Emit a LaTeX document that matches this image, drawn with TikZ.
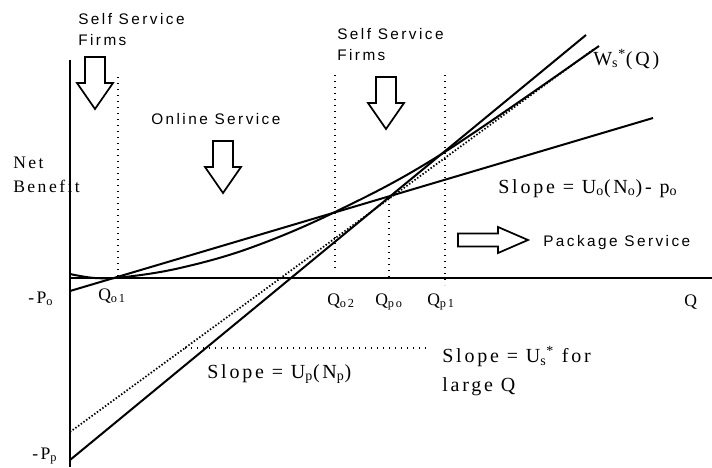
\documentclass[tikz,border=0pt]{standalone}
\usepackage{fontspec}
\setmainfont{Liberation Serif}[LetterSpace=14]
\setsansfont{Liberation Sans}[LetterSpace=16]

\tikzset{
  axis/.style={line width=1.5pt},
  curve/.style={line width=1.5pt},
  guide/.style={line width=0.9pt, dash pattern=on 0.9pt off 3.6pt},
  asym/.style={line width=1.3pt, dash pattern=on 1.1pt off 1.4pt},
  qlbl/.style={inner sep=0pt, anchor=base west, font=\fontsize{13.2}{18}\selectfont},
  slbl/.style={inner sep=0pt, anchor=base west, font=\fontsize{15}{21.75}\selectfont},
  firm/.style={inner sep=0pt, anchor=base west, font=\sffamily\fontsize{11.5}{15.75}\selectfont},
  hollowdown/.pic={
    \draw[line width=1.3pt] (-10,0) -- (10,0) -- (10,26) -- (18,26) -- (0,52)
      -- (-18,26) -- (-10,26) -- cycle;
  },
  hollowright/.pic={
    \draw[line width=1.3pt] (0,-6.5) -- (40,-6.5) -- (40,-13) -- (70,0)
      -- (40,13) -- (40,6.5) -- (0,6.5) -- cycle;
  },
}

\begin{document}
\begin{tikzpicture}[x=0.75pt, y=-0.75pt]
\useasboundingbox (0,0) rectangle (712,467);

% axes
\coordinate (origin) at (70,278);
\coordinate (top) at (70,60);
\coordinate (bottom) at (70,467);
\coordinate (right) at (712,278);
\draw[axis] (top) -- (bottom);
\draw[axis] (origin) -- (right);

% intercepts and line ends
\coordinate (Po) at (70,291);
\coordinate (Ps) at (70,432);
\coordinate (Pp) at (70,460);
\coordinate (onlineEnd) at (653,118);
\coordinate (packageEnd) at (586,35);
\coordinate (selfEnd) at (594,49);
\draw[curve] (Po) -- (onlineEnd);
\draw[curve] (Pp) -- (packageEnd);
\draw[asym] (Ps) -- (selfEnd);
\draw[curve] plot[smooth, tension=0.6] coordinates {(70,274) (95,278) (125,277)
  (180,268) (250,248) (335,212) (440,155) (599,46)};

% thresholds
\draw[guide] (118,77) -- (118,278);
\draw[guide] (335,75) -- (335,268);
\draw[guide] (389,198) -- (389,278);
\draw[guide] (445,75) -- (445,285);
\draw[guide] (185,348) -- (430,348);

% axis labels
\node[qlbl] (lPo) at (28,303) {-P\textsubscript{o}};
\node[qlbl] (lPp) at (32,459) {-P\textsubscript{p}};
\node[qlbl] (lQo1) at (98,300) {Q\textsubscript{o1}};
\node[qlbl] (lQo2) at (327,305) {Q\textsubscript{o2}};
\node[qlbl] (lQpo) at (375,305) {Q\textsubscript{po}};
\node[qlbl] (lQp1) at (427,305) {Q\textsubscript{p1}};
\node[qlbl] (lQ) at (684,306) {Q};
\node[qlbl, anchor=north west, align=left] (lNet) at (13,157) {Net\\Benefit};

% slopes
\node[slbl] (lWs) at (593,65) {W\textsubscript{s}\textsuperscript{*}(Q)};
\node[slbl] (lSo) at (498,193) {Slope = U\textsubscript{o}(N\textsubscript{o})- p\textsubscript{o}};
\node[slbl] (lSp) at (207,378) {Slope = U\textsubscript{p}(N\textsubscript{p})};
\node[slbl, anchor=north west, align=left] (lSs) at (442,346) {Slope = U\textsubscript{s}\textsuperscript{*} for\\large Q};

% regions
\node[firm, anchor=north west, align=left] (lSelfA) at (78,13) {Self Service\\Firms};
\node[firm, anchor=north west, align=left] (lSelfB) at (337,28) {Self Service\\Firms};
\node[firm] (lOnline) at (151,124) {Online Service};
\node[firm] (lPackage) at (543,246) {Package Service};
\pic (arrSelfA) at (95,57) {hollowdown};
\pic (arrOnline) at (223,141) {hollowdown};
\pic (arrSelfB) at (386,77) {hollowdown};
\pic (arrPackage) at (458,240) {hollowright};
\end{tikzpicture}
\end{document}
